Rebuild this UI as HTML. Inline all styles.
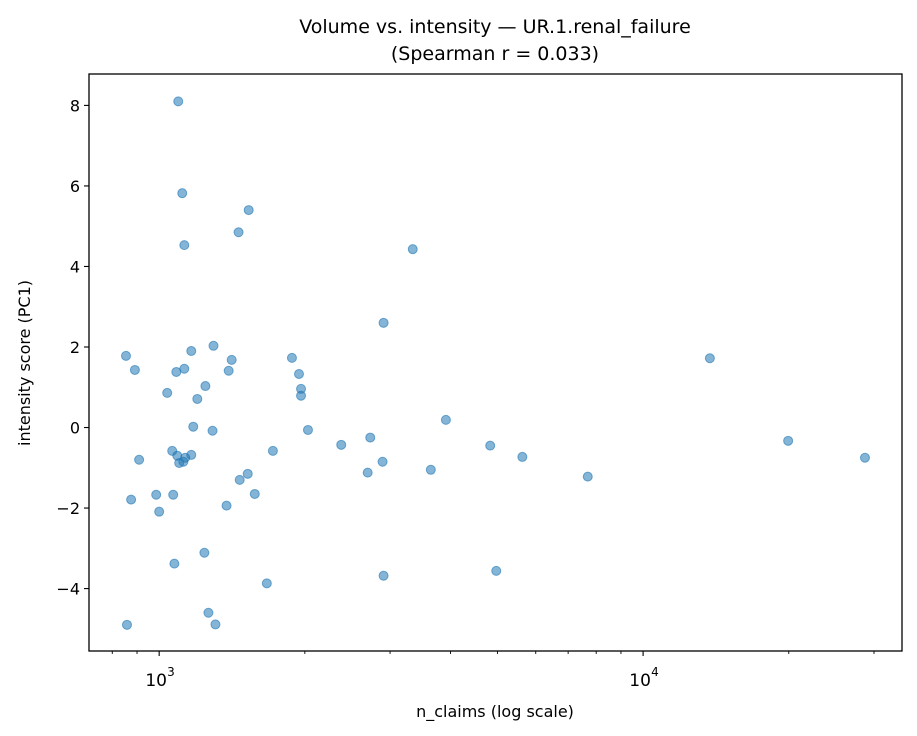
<!DOCTYPE html>
<html><head><meta charset="utf-8"><style>
body{margin:0;background:#fff;}
svg{display:block;font-family:"DejaVu Sans","Liberation Sans",sans-serif;}
</style></head><body>
<svg id="chart" width="917" height="736" xmlns="http://www.w3.org/2000/svg">
<rect width="917" height="736" fill="#fff"/>
<text x="495" y="33" text-anchor="middle" font-size="19">Volume vs. intensity — UR.1.renal_failure</text>
<text x="495" y="60" text-anchor="middle" font-size="19">(Spearman r = 0.033)</text>
<text x="495" y="717" text-anchor="middle" font-size="16">n_claims (log scale)</text>
<text transform="translate(30,363) rotate(-90)" text-anchor="middle" font-size="16">intensity score (PC1)</text>
<g id="points"></g>
<g id="axes"></g>
<rect x="89" y="74" width="813" height="577" fill="none" stroke="#000" stroke-width="1.3"/>
</svg>
<script>
const nClaims=[1095,1116,1531,1127,1459,3342,2909,13740,854,891,1165,1295,1412,1085,1127,1392,1881,1945,1964,1964,1246,1039,1199,3913,1176,1289,2030,2378,2730,4831,5630,19940,28740,7685,3642,2895,2697,1718,1524,1467,1576,909,1064,1090,1100,1122,1132,1165,875,986,1069,1000,1378,1240,1075,1669,2909,4972,858,1264,1307];
const intensity=[8.10,5.82,5.40,4.53,4.85,4.43,2.60,1.72,1.78,1.43,1.90,2.03,1.68,1.38,1.46,1.41,1.73,1.33,0.96,0.79,1.03,0.86,0.71,0.19,0.02,-0.08,-0.06,-0.43,-0.25,-0.45,-0.73,-0.33,-0.75,-1.22,-1.05,-0.85,-1.12,-0.58,-1.15,-1.30,-1.65,-0.80,-0.58,-0.70,-0.88,-0.85,-0.75,-0.68,-1.79,-1.67,-1.67,-2.09,-1.94,-3.11,-3.38,-3.87,-3.68,-3.56,-4.90,-4.60,-4.89];
const yTicks=[-4,-2,0,2,4,6,8];
const xMajor=[1000,10000];
const xMajorExp=["3","4"];
const xMinor=[800,900,2000,3000,4000,5000,6000,7000,8000,9000,20000,30000];

const NS="http://www.w3.org/2000/svg";
const L=89,R=902,T=74,B=651;
const lmin=2.855,lmax=4.535;
function xs(v){return L+(Math.log10(v)-lmin)/(lmax-lmin)*(R-L);}
const ymin=-5.55,ymax=8.78;
function ys(v){return B-(v-ymin)/(ymax-ymin)*(B-T);}
function mk(tag,attrs,parent){const e=document.createElementNS(NS,tag);for(const k in attrs)e.setAttribute(k,attrs[k]);parent.appendChild(e);return e;}
const pg=document.getElementById('points'),ag=document.getElementById('axes');
nClaims.forEach((v,i)=>{
  const c=mk('circle',{cx:xs(v),cy:ys(intensity[i]),r:4.5,fill:'#1f77b4','fill-opacity':0.55,stroke:'#1f77b4','stroke-opacity':0.6,'stroke-width':1},pg);
  
  
});
yTicks.forEach(t=>{
  const y=ys(t);
  const l=mk('line',{x1:L-5,x2:L,y1:y,y2:y,stroke:'#000','stroke-width':1.1},ag);
  
  
  const tx=mk('text',{x:L-9,y:y+6,'text-anchor':'end','font-size':16},ag);
  tx.textContent=(t<0?'\u2212'+(-t):String(t));
  
  
});
xMajor.forEach((v,i)=>{
  const x=xs(v);
  const l=mk('line',{x1:x,x2:x,y1:B,y2:B+5,stroke:'#000','stroke-width':1.1},ag);
  
  
  const tx=mk('text',{x:x-3,y:B+35,'text-anchor':'middle','font-size':17},ag);
  tx.textContent='10';
  
  
  const sp=mk('text',{x:x+8,y:B+25,'font-size':12},ag);
  sp.textContent=xMajorExp[i];
  
  
});
xMinor.forEach(v=>{
  const x=xs(v);
  const l=mk('line',{x1:x,x2:x,y1:B,y2:B+3,stroke:'#000','stroke-width':0.9},ag);
  
  
});
</script>
</body></html>
